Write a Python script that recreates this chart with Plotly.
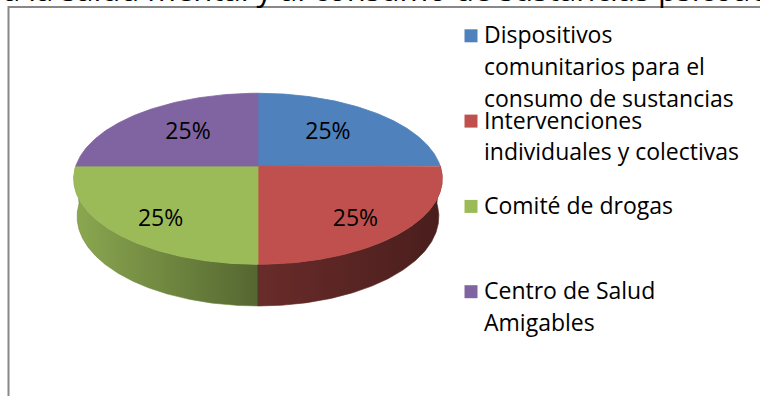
import math
import numpy as np
import plotly.graph_objects as go

# ---- data -------------------------------------------------------------
categories = [
    "Dispositivos<br>comunitarios para el<br>consumo de sustancias",
    "Intervenciones<br>individuales y colectivas",
    "Comité de drogas",
    "Centro de Salud<br>Amigables",
]
values = [25, 25, 25, 25]
colors = ["#4F81BD", "#C0504D", "#9BBB59", "#8064A2"]
title_text = "a la salud mental y al consumo de sustancias psicoactivas"

# ---- canvas / styling -------------------------------------------------
W, H = 760, 396
FONT = "Open Sans"
FS = 23

# perspective camera for the tilted disc
CX, CY = 258.0, 166.0        # screen position of the disc centre
FOCAL = 1085.0
DIST = 5.956                 # camera distance, in radius units
S = 0.459                    # sin(tilt)
C = math.sqrt(1 - S * S)     # cos(tilt)
THICK = 0.235                # disc thickness, in radius units


def project(r, theta, z=0.0):
    """Perspective projection of a point on the disc (theta=pi/2 is the back)."""
    theta = np.asarray(theta, dtype=float)
    z = np.asarray(z, dtype=float)
    X = r * np.cos(theta)
    Y = r * np.sin(theta)
    depth = C * Y - S * z + DIST
    up = S * Y + C * z
    return CX + FOCAL * X / depth, CY - FOCAL * up / depth


def hex_rgb(h):
    h = h.lstrip("#")
    return tuple(int(h[i:i + 2], 16) for i in (0, 2, 4))


def shade(x):
    # side lighting: lighter on the left rim, darker toward the right
    return float(np.interp(x, [74, 258, 442], [0.90, 0.55, 0.38]))


def shaded(hexcol, f):
    r, g, b = hex_rgb(hexcol)
    return f"rgb({int(r * f)},{int(g * f)},{int(b * f)})"


total = float(sum(values))
cum = np.concatenate([[0.0], np.cumsum(values)]) / total
# slices start at 12 o'clock and run clockwise
bounds = math.pi / 2 - 2 * math.pi * cum

fig = go.Figure()

# ---- sides (front half of the rim) ------------------------------------
for i, col in enumerate(colors):
    a0, a1 = bounds[i], bounds[i + 1]
    n = max(8, int(abs(math.degrees(a0 - a1)) * 2))
    th = list(np.linspace(a0, a1, n))
    k_lo, k_hi = math.ceil(min(a0, a1) / math.pi), math.floor(max(a0, a1) / math.pi)
    th += [k * math.pi for k in range(k_lo, k_hi + 1)]
    th = np.array(sorted(set(th), reverse=True))
    mask = np.sin(th) <= 1e-9
    runs, cur = [], []
    for t, m in zip(th, mask):
        if m:
            cur.append(t)
        elif cur:
            runs.append(cur)
            cur = []
    if cur:
        runs.append(cur)
    for run in runs:
        if len(run) < 2:
            continue
        run = np.array(run)
        tx, ty = project(1.0, run, 0.0)
        bx, by = project(1.0, run[::-1], -THICK)
        xs = np.concatenate([tx, bx, tx[:1]])
        ys = np.concatenate([ty, by, ty[:1]])
        x_lo, x_hi = float(xs.min()), float(xs.max())
        stops = np.linspace(0, 1, 9)
        cscale = [[float(s), shaded(col, shade(x_lo + s * (x_hi - x_lo)))] for s in stops]
        fig.add_trace(go.Scatter(
            x=xs, y=ys, mode="lines", fill="toself",
            fillgradient=dict(type="horizontal", colorscale=cscale,
                              start=x_lo, stop=x_hi),
            line=dict(width=0.6, color=shaded(col, shade((x_lo + x_hi) / 2))),
            hoverinfo="skip", showlegend=False,
        ))

# dark seam where two slices meet on the front rim
for b in bounds[:-1]:
    if math.sin(b) < -1e-6:
        ex, ey = project(1.0, [b, b], [0.0, -THICK])
        fig.add_trace(go.Scatter(
            x=ex, y=ey, mode="lines",
            line=dict(width=1.2, color="rgba(50,30,25,0.55)"),
            hoverinfo="skip", showlegend=False,
        ))

# ---- top faces --------------------------------------------------------
for i, col in enumerate(colors):
    a0, a1 = bounds[i], bounds[i + 1]
    n = max(8, int(abs(math.degrees(a0 - a1)) * 2))
    th = np.linspace(a0, a1, n)
    ax, ay = project(1.0, th, 0.0)
    ox, oy = project(0.0, 0.0, 0.0)
    xs = np.concatenate([[float(ox)], ax, [float(ox)]])
    ys = np.concatenate([[float(oy)], ay, [float(oy)]])
    fig.add_trace(go.Scatter(
        x=xs, y=ys, mode="lines", fill="toself", fillcolor=col,
        line=dict(width=0.8, color=col),
        hoverinfo="skip", showlegend=False,
    ))

# ---- percentage labels ------------------------------------------------
lx, ly, lt = [], [], []
for i, v in enumerate(values):
    mid = (bounds[i] + bounds[i + 1]) / 2
    sn = math.sin(mid)
    rl = 0.64 - 0.09 * sn
    zl = 0.35 * THICK * min(0.0, sn)
    px, py = project(rl, mid, zl)
    lx.append(float(px))
    ly.append(float(py) - 1)
    lt.append(f"{v / total * 100:.0f}%")
fig.add_trace(go.Scatter(
    x=lx, y=ly, mode="text", text=lt, textposition="middle center",
    textfont=dict(family=FONT, size=FS, color="#000000"),
    hoverinfo="skip", showlegend=False,
))

# ---- legend -----------------------------------------------------------
annotations = []
shapes = []
LEG_X = 482
LEG_TOP = 43.3      # baseline of first line of first entry
LEG_STEP = 85.3     # entry pitch
LINE_H = 31.7       # line pitch inside an entry
BASE_OFF = 0.388 * FS


def px_to_paper(x, y):
    return x / W, 1 - y / H


for i, (name, col) in enumerate(zip(categories, colors)):
    base = LEG_TOP + LEG_STEP * i
    sq = base - 7.5
    shapes.append(dict(
        type="rect", xref="x", yref="y",
        x0=464.5, x1=477.5, y0=sq - 6.5, y1=sq + 6.5,
        fillcolor=col, line=dict(width=0),
    ))
    for j, line in enumerate(name.split("<br>")):
        xp, yp = px_to_paper(LEG_X, base + j * LINE_H - BASE_OFF)
        annotations.append(dict(
            text=line, xref="paper", yref="paper", x=xp, y=yp,
            xanchor="left", yanchor="middle", showarrow=False,
            font=dict(family=FONT, size=FS, color="#000000"),
        ))

# title line running off the top edge
TFS = 31
xp, yp = px_to_paper(1, 1.5 - 0.388 * TFS)
annotations.append(dict(
    text=title_text, xref="paper", yref="paper", x=xp, y=yp,
    xanchor="left", yanchor="middle", showarrow=False,
    font=dict(family=FONT, size=TFS, color="#000000"),
))

# chart area frame
shapes.append(dict(
    type="rect", xref="x", yref="y", x0=8.5, y0=7, x1=800, y1=420,
    line=dict(color="#888888", width=2), fillcolor="rgba(0,0,0,0)",
))

fig.update_layout(
    width=W, height=H,
    margin=dict(l=0, r=0, t=0, b=0),
    paper_bgcolor="white", plot_bgcolor="white",
    xaxis=dict(range=[0, W], visible=False, fixedrange=True),
    yaxis=dict(range=[H, 0], visible=False, fixedrange=True),
    shapes=shapes, annotations=annotations,
    showlegend=False,
)

fig.write_html("out.html")
